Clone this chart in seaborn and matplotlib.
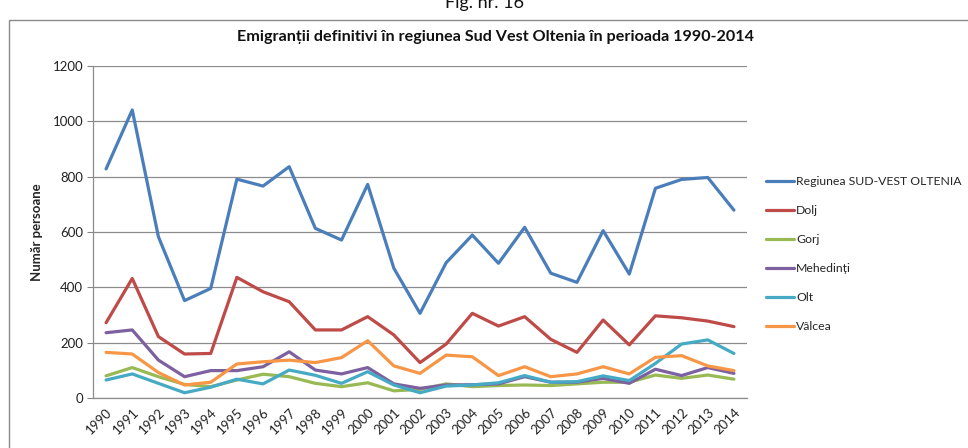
import numpy as np
import pandas as pd
import seaborn as sns
import matplotlib.pyplot as plt
from matplotlib.patches import Rectangle

years = list(range(1990, 2015))

regiune = [828, 1041, 583, 352, 396, 791, 766, 836, 613, 571, 772, 469, 306,
           489, 589, 487, 617, 451, 418, 605, 448, 758, 790, 797, 679]
dolj = [272, 432, 222, 159, 161, 436, 384, 348, 246, 246, 294, 228, 128,
        195, 306, 260, 294, 212, 165, 282, 192, 297, 290, 278, 258]
gorj = [80, 110, 77, 49, 41, 65, 86, 77, 53, 41, 55, 26, 31,
        51, 41, 45, 47, 45, 51, 57, 57, 83, 71, 83, 68]
mehedinti = [236, 246, 137, 77, 99, 99, 113, 167, 101, 87, 110, 51, 35,
             47, 48, 51, 77, 57, 57, 71, 53, 104, 81, 110, 89]
olt = [65, 87, 53, 19, 39, 68, 51, 101, 82, 53, 95, 47, 19,
       43, 47, 55, 81, 57, 59, 80, 63, 125, 195, 210, 161]
valcea = [165, 159, 92, 47, 57, 123, 131, 137, 128, 146, 207, 116, 89,
          155, 149, 81, 113, 77, 87, 113, 87, 147, 153, 116, 99]

series_names = ["Regiunea SUD-VEST OLTENIA", "Dolj", "Gorj", "Mehedinți", "Olt", "Vâlcea"]
series_values = [regiune, dolj, gorj, mehedinti, olt, valcea]
colors = ["#4A7EBB", "#BE4B48", "#98B954", "#7D60A0", "#46AAC5", "#F79646"]

df = pd.DataFrame({
    "an": years * len(series_names),
    "valoare": sum(series_values, []),
    "serie": np.repeat(series_names, len(years)),
})

sns.set_style("white")
plt.rcParams['font.family'] = ['Lato', 'DejaVu Sans']

W, H = 968, 448
fig = plt.figure(figsize=(W / 100, H / 100), dpi=100)
ax = fig.add_axes([93 / W, 1 - 398 / H, (747 - 93) / W, (398 - 66) / H])

sns.lineplot(data=df, x="an", y="valoare", hue="serie", hue_order=series_names,
             palette=colors, linewidth=2.3, ax=ax, legend=False)

ax.set_xlim(1989.5, 2014.5)
ax.set_ylim(0, 1200)
ax.set_yticks(range(0, 1201, 200))
ax.set_xticks(years)
ax.set_xticklabels([str(y) for y in years], rotation=45, ha="right",
                   rotation_mode="anchor", fontsize=9.5, color="#222222")
ax.tick_params(axis="y", labelsize=9.5, labelcolor="#222222", length=4,
               color="#868686", direction="out", left=True, pad=3)
ax.tick_params(axis="x", length=0, pad=6)
ax.grid(axis="y", color="#8c8c8c", linewidth=0.9)
ax.grid(axis="x", visible=False)
ax.set_axisbelow(True)
for side in ["top", "right"]:
    ax.spines[side].set_visible(False)
for side in ["left", "bottom"]:
    ax.spines[side].set_color("#8c8c8c")
    ax.spines[side].set_linewidth(0.9)

ax.set_xlabel("")
ax.set_ylabel("Număr persoane", fontsize=9.5, fontweight="bold", labelpad=7)

fig.text(496 / W, 1 - 37 / H, "Emigranții definitivi în regiunea Sud Vest Oltenia în perioada 1990-2014",
         ha="center", va="center", fontsize=11.6, fontweight="bold", color="#111111")
fig.text(485 / W, 1 - 8 / H, "Fig. nr. 16", ha="center", va="baseline", fontsize=13,
         color="#111111")

fig.add_artist(Rectangle((9 / W, -0.1), 1.0, 1 - 20 / H + 0.1, transform=fig.transFigure,
                         fill=False, edgecolor="#8a8a8a", linewidth=1.0))

handles = [plt.Line2D([], [], color=c, linewidth=2.3) for c in colors]
fig.legend(handles, series_names, loc="upper left",
           bbox_to_anchor=(766 / W, 1 - 176 / H), frameon=False,
           fontsize=8.8, handlelength=2.3, handletextpad=0.15,
           labelspacing=1.47, borderpad=0, borderaxespad=0)

fig.savefig("out.png", dpi=100)
